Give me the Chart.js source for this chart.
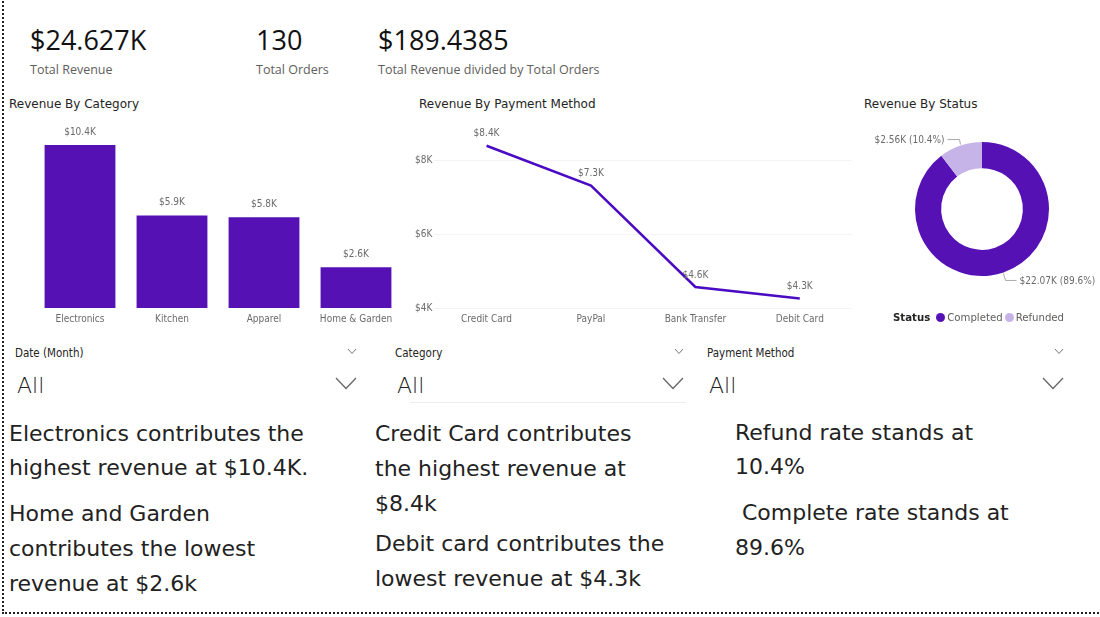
<!DOCTYPE html>
<html><head><meta charset="utf-8">
<script src="https://cdn.jsdelivr.net/npm/chart.js@4.4.1/dist/chart.umd.min.js"></script>
<style>
body{margin:0;width:1100px;height:617px;background:#fff;position:relative;overflow:hidden;font-family:'Open Sans',sans-serif;}
#frame{position:absolute;left:2px;top:-6px;width:1120px;height:620px;border-left:2px dotted #222;border-bottom:2px dotted #222;box-sizing:border-box;}
.kv{position:absolute;font-size:27px;color:#111;line-height:30px;white-space:nowrap;}
.kl{position:absolute;font-size:12.5px;color:#605E5C;line-height:16px;white-space:nowrap;}
.title{position:absolute;font-family:'DejaVu Sans',sans-serif;font-size:12px;color:#252423;line-height:16px;white-space:nowrap;}
.sl{position:absolute;font-family:'DejaVu Sans Condensed',sans-serif;font-size:11.5px;color:#252423;line-height:14px;white-space:nowrap;}
.all{position:absolute;font-family:'DejaVu Sans',sans-serif;font-weight:200;font-size:22px;color:#222;line-height:26px;}
.chev{position:absolute;}
.txt{position:absolute;font-family:'DejaVu Sans',sans-serif;font-size:22px;color:#222;line-height:30px;white-space:nowrap;}
canvas{position:absolute;}
#legend{position:absolute;left:893px;top:311px;font-family:'DejaVu Sans Condensed',sans-serif;font-size:11.3px;color:#605E5C;white-space:nowrap;line-height:14px;}
#legend b{color:#252423;margin-right:4px;}
#legend .dot{display:inline-block;width:9px;height:9px;border-radius:50%;margin:0 2px 0 2px;vertical-align:-1px;}
</style></head>
<body>
<div id="frame"></div>
<div id="kpis"></div>
<div class="title" style="left:9px;top:96px;">Revenue By Category</div>
<div class="title" style="left:419px;top:96px;">Revenue By Payment Method</div>
<div class="title" style="left:864px;top:96px;">Revenue By Status</div>
<canvas id="bar" width="410" height="220" style="left:0;top:110px;"></canvas>
<canvas id="line" width="460" height="220" style="left:400px;top:110px;"></canvas>
<canvas id="donut" width="244" height="180" style="left:860px;top:119px;"></canvas>
<div id="legend"></div>
<div id="slicers"></div>
<div style="position:absolute;left:410px;top:402px;width:276px;height:1px;background:#eee;"></div>
<div id="texts"></div>
<script>
// ---- data ----
const kpiValues = ['$24.627K', '130', '$189.4385'];
const kpiLabels = ['Total Revenue', 'Total Orders', 'Total Revenue divided by Total Orders'];
const categories = ['Electronics', 'Kitchen', 'Apparel', 'Home & Garden'];
const categoryRevenue = [10400, 5900, 5800, 2600];
const paymentMethods = ['Credit Card', 'PayPal', 'Bank Transfer', 'Debit Card'];
const paymentRevenue = [8400, 7320, 4570, 4260];
const paymentTicks = [4000, 6000, 8000];
const statusLabels = ['Completed', 'Refunded'];
const statusRevenue = [22070, 2560];
const slicerNames = ['Date (Month)', 'Category', 'Payment Method'];
const slicerValues = ['All', 'All', 'All'];
const col1Lines = ['Electronics contributes the', 'highest revenue at $10.4K.', 'Home and Garden', 'contributes the lowest', 'revenue at $2.6k'];
const col2Lines = ['Credit Card contributes', 'the highest revenue at', '$8.4k', 'Debit card contributes the', 'lowest revenue at $4.3k'];
const col3Lines = ['Refund rate stands at', '10.4%', ' Complete rate stands at', '89.6%'];

// ---- layout / styles ----
const kpiX = [30, 256, 378];
const kpisEl = document.getElementById('kpis');
kpiValues.forEach((v, i) => {
  kpisEl.insertAdjacentHTML('beforeend', `<div class="kv" style="left:${kpiX[i]}px;top:25px;">${v}</div><div class="kl" style="left:${kpiX[i]}px;top:62px;">${kpiLabels[i]}</div>`);
});
const slX = [15, 395, 707];
const slChev = [352, 679, 1059];
const sEl = document.getElementById('slicers');
slicerNames.forEach((n, i) => {
  const x = slX[i], c = slChev[i];
  sEl.insertAdjacentHTML('beforeend',
    `<div class="sl" style="left:${x}px;top:346px;">${n}</div>
     <svg class="chev" style="left:${c - 5}px;top:348px;" width="10" height="7"><polyline points="1,1 5,5.5 9,1" fill="none" stroke="#777" stroke-width="1"/></svg>
     <div class="all" style="left:${x + 2}px;top:373px;">${slicerValues[i]}</div>
     <svg class="chev" style="left:${c - 17}px;top:377px;" width="22" height="13"><polyline points="1,1 11,11.5 21,1" fill="none" stroke="#666" stroke-width="1.3"/></svg>`);
});
const tEl = document.getElementById('texts');
function addLines(lines, x, baselines) {
  lines.forEach((t, i) => {
    tEl.insertAdjacentHTML('beforeend', `<div class="txt" style="left:${x}px;top:${baselines[i] - 23}px;">${t.replace(/ /g, '&nbsp;')}</div>`);
  });
}
addLines(col1Lines, 9, [442, 476, 522, 557, 592]);
addLines(col2Lines, 375, [442, 477, 512, 552, 587]);
addLines(col3Lines, 735, [441, 475, 521, 556]);

const barColor = '#5611B5';
const lineColor = '#4B0BC3';
const statusColors = ['#5611B5', '#C6B4E8'];
const axisFont = { family: "'DejaVu Sans Condensed', sans-serif", size: 10 };
const labelColor = '#6b6b6b';
const fmtK = v => '$' + (v / 1000).toFixed(1) + 'K';

const legendEl = document.getElementById('legend');
legendEl.innerHTML = '<b>Status</b>' + statusLabels.map((l, i) => `<span class="dot" style="background:${statusColors[i]}"></span>${l}`).join('');

Chart.defaults.animation = false;

const barLabels = {
  id: 'barLabels',
  afterDatasetsDraw(chart) {
    const ctx = chart.ctx;
    const meta = chart.getDatasetMeta(0);
    ctx.save();
    ctx.font = "10px 'DejaVu Sans Condensed', sans-serif";
    ctx.fillStyle = labelColor;
    ctx.textAlign = 'center';
    ctx.textBaseline = 'middle';
    meta.data.forEach((el, i) => {
      ctx.fillText(fmtK(chart.data.datasets[0].data[i]), el.x, el.y - 13);
    });
    ctx.restore();
  }
};

new Chart(document.getElementById('bar'), {
  type: 'bar',
  data: { labels: categories, datasets: [{ data: categoryRevenue, backgroundColor: barColor, categoryPercentage: 1, barPercentage: 0.77 }] },
  options: {
    responsive: false,
    layout: { padding: { left: 34, right: 8, top: 10, bottom: 0 } },
    plugins: { legend: { display: false }, tooltip: { enabled: false } },
    scales: {
      x: { grid: { display: false, drawTicks: false }, border: { display: false }, ticks: { font: axisFont, color: labelColor, padding: 5, maxRotation: 0 } },
      y: { display: false, min: 0, max: 12000 }
    }
  },
  plugins: [barLabels]
});

const lineLabels = {
  id: 'lineLabels',
  afterDatasetsDraw(chart) {
    const ctx = chart.ctx;
    const meta = chart.getDatasetMeta(0);
    ctx.save();
    ctx.font = "10px 'DejaVu Sans Condensed', sans-serif";
    ctx.fillStyle = labelColor;
    ctx.textAlign = 'center';
    ctx.textBaseline = 'middle';
    meta.data.forEach((el, i) => {
      ctx.fillText(fmtK(chart.data.datasets[0].data[i]), el.x, el.y - 12);
    });
    ctx.restore();
  }
};

new Chart(document.getElementById('line'), {
  type: 'line',
  data: { labels: paymentMethods, datasets: [{ data: paymentRevenue, borderColor: lineColor, borderWidth: 2.5, pointRadius: 0, tension: 0, fill: false }] },
  options: {
    responsive: false,
    layout: { padding: { left: 13, right: 8, top: 21, bottom: 0 } },
    plugins: { legend: { display: false }, tooltip: { enabled: false } },
    scales: {
      x: { offset: true, grid: { display: false, drawTicks: false }, border: { display: false }, ticks: { font: axisFont, color: labelColor, padding: 5, maxRotation: 0 } },
      y: {
        min: 4000, max: 8800,
        afterBuildTicks: s => { s.ticks = paymentTicks.map(v => ({ value: v })); },
        grid: { color: '#f4f4f4', drawTicks: false }, border: { display: false },
        ticks: { font: axisFont, color: labelColor, padding: 2, callback: v => '$' + (v / 1000) + 'K' }
      }
    }
  },
  plugins: [lineLabels]
});

const donutLabels = {
  id: 'donutLabels',
  afterDatasetsDraw(chart) {
    const ctx = chart.ctx;
    const meta = chart.getDatasetMeta(0);
    const total = statusRevenue.reduce((a, b) => a + b, 0);
    ctx.save();
    ctx.font = "10px 'DejaVu Sans Condensed', sans-serif";
    ctx.fillStyle = labelColor;
    ctx.strokeStyle = '#aaa';
    ctx.lineWidth = 1;
    ctx.textBaseline = 'middle';
    meta.data.forEach((arc, i) => {
      const mid = (arc.startAngle + arc.endAngle) / 2;
      const px = arc.x + Math.cos(mid) * arc.outerRadius;
      const py = arc.y + Math.sin(mid) * arc.outerRadius;
      const up = Math.sin(mid) < 0;
      const right = Math.cos(mid) > 0;
      const ey = py + (up ? -6 : 8);
      const hx = right ? px + 13 : px - 13;
      ctx.beginPath();
      ctx.moveTo(px, py + (up ? -1 : 1));
      ctx.lineTo(px + (right ? 2 : -1), ey);
      ctx.lineTo(hx, ey);
      ctx.stroke();
      const v = statusRevenue[i];
      const txt = '$' + (v / 1000).toFixed(2) + 'K (' + (v / total * 100).toFixed(1) + '%)';
      ctx.textAlign = right ? 'left' : 'right';
      ctx.fillText(txt, right ? hx + 3 : hx - 3, ey + 1);
    });
    ctx.restore();
  }
};

new Chart(document.getElementById('donut'), {
  type: 'doughnut',
  data: { labels: statusLabels, datasets: [{ data: statusRevenue, backgroundColor: statusColors, borderWidth: 0 }] },
  options: {
    responsive: false,
    cutout: '61%',
    layout: { padding: 23 },
    plugins: { legend: { display: false }, tooltip: { enabled: false } }
  },
  plugins: [donutLabels]
});
</script>
</body></html>
